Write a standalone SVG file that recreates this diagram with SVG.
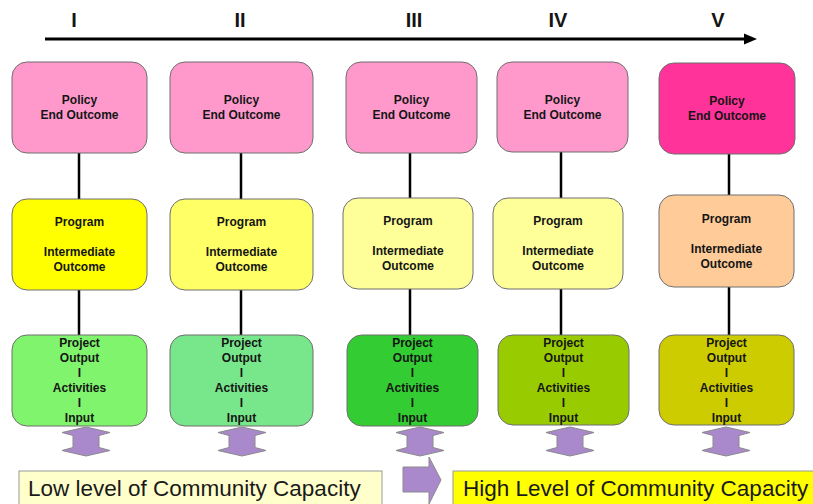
<svg xmlns="http://www.w3.org/2000/svg" width="813" height="504" viewBox="0 0 813 504">
  <style>
    .box { stroke: #6e6e6e; stroke-width: 1; }
    .lbl { font-family: "Liberation Sans", Arial, sans-serif; font-size: 12px; font-weight: bold; fill: #151515; text-anchor: middle; }
    .num { font-family: "Liberation Sans", Arial, sans-serif; font-size: 20px; font-weight: bold; fill: #151515; text-anchor: middle; }
    .cap { font-family: "Liberation Sans", Arial, sans-serif; font-size: 22.5px; fill: #1a1a1a; }
    .link { stroke: #000; stroke-width: 2.5; fill: none; }
    .ud { fill: #aa88cc; stroke: #8a8a8a; stroke-width: 1; }
  </style>
  <defs>
    <path id="updown" d="M0,-14.5 L24,-9 L13,-6 L13,6 L24,9 L0,14.5 L-24,9 L-13,6 L-13,-6 L-24,-9 Z"/>
  </defs>
  <rect width="813" height="504" fill="#ffffff"/>

  <!-- stage numbers and time axis -->
  <g id="axis">
    <text class="num" x="74" y="27">I</text>
    <text class="num" x="240" y="27">II</text>
    <text class="num" x="414" y="27">III</text>
    <text class="num" x="558" y="27">IV</text>
    <text class="num" x="718" y="27">V</text>
    <line x1="45" y1="39" x2="746" y2="39" stroke="#000" stroke-width="3"/>
    <polygon points="744,33.5 757,39 744,44.5" fill="#000"/>
  </g>

  <!-- connectors between levels -->
  <g id="connectors">
    <line class="link" x1="79" y1="153" x2="79" y2="199"/>
    <line class="link" x1="79" y1="290" x2="79" y2="335"/>
    <line class="link" x1="241" y1="153" x2="241" y2="199"/>
    <line class="link" x1="241" y1="290" x2="241" y2="335"/>
    <line class="link" x1="410" y1="153" x2="410" y2="198"/>
    <line class="link" x1="410" y1="289" x2="410" y2="335"/>
    <line class="link" x1="561" y1="152" x2="561" y2="198"/>
    <line class="link" x1="561" y1="289" x2="561" y2="335"/>
    <line class="link" x1="729" y1="154" x2="729" y2="195"/>
    <line class="link" x1="729" y1="287" x2="729" y2="335"/>
  </g>

  <!-- stage I -->
  <g id="policy-1">
    <rect class="box" x="12" y="62" width="135" height="91" rx="15" fill="#ff99cc"/>
    <text class="lbl" x="79.5" y="104">Policy</text>
    <text class="lbl" x="79.5" y="119">End Outcome</text>
  </g>
  <g id="program-1">
    <rect class="box" x="12" y="199" width="135" height="91" rx="15" fill="#ffff00"/>
    <text class="lbl" x="79.5" y="226">Program</text>
    <text class="lbl" x="79.5" y="256">Intermediate</text>
    <text class="lbl" x="79.5" y="271">Outcome</text>
  </g>
  <g id="project-1">
    <rect class="box" x="12" y="335" width="135" height="91" rx="15" fill="#7ff46c"/>
    <text class="lbl" x="79.5" y="347">Project</text>
    <text class="lbl" x="79.5" y="362">Output</text>
    <text class="lbl" x="79.5" y="377">I</text>
    <text class="lbl" x="79.5" y="392">Activities</text>
    <text class="lbl" x="79.5" y="407">I</text>
    <text class="lbl" x="79.5" y="422">Input</text>
  </g>

  <!-- stage II -->
  <g id="policy-2">
    <rect class="box" x="170" y="62" width="143" height="91" rx="15" fill="#ff99cc"/>
    <text class="lbl" x="241.5" y="104">Policy</text>
    <text class="lbl" x="241.5" y="119">End Outcome</text>
  </g>
  <g id="program-2">
    <rect class="box" x="170" y="199" width="143" height="91" rx="15" fill="#ffff66"/>
    <text class="lbl" x="241.5" y="226">Program</text>
    <text class="lbl" x="241.5" y="256">Intermediate</text>
    <text class="lbl" x="241.5" y="271">Outcome</text>
  </g>
  <g id="project-2">
    <rect class="box" x="170" y="335" width="143" height="91" rx="15" fill="#78e68a"/>
    <text class="lbl" x="241.5" y="347">Project</text>
    <text class="lbl" x="241.5" y="362">Output</text>
    <text class="lbl" x="241.5" y="377">I</text>
    <text class="lbl" x="241.5" y="392">Activities</text>
    <text class="lbl" x="241.5" y="407">I</text>
    <text class="lbl" x="241.5" y="422">Input</text>
  </g>

  <!-- stage III -->
  <g id="policy-3">
    <rect class="box" x="346" y="62" width="131" height="91" rx="15" fill="#ff99cc"/>
    <text class="lbl" x="411.5" y="104">Policy</text>
    <text class="lbl" x="411.5" y="119">End Outcome</text>
  </g>
  <g id="program-3">
    <rect class="box" x="343" y="198" width="130" height="91" rx="15" fill="#ffff99"/>
    <text class="lbl" x="408" y="225">Program</text>
    <text class="lbl" x="408" y="255">Intermediate</text>
    <text class="lbl" x="408" y="270">Outcome</text>
  </g>
  <g id="project-3">
    <rect class="box" x="347" y="335" width="131" height="91" rx="15" fill="#33cc33"/>
    <text class="lbl" x="412.5" y="347">Project</text>
    <text class="lbl" x="412.5" y="362">Output</text>
    <text class="lbl" x="412.5" y="377">I</text>
    <text class="lbl" x="412.5" y="392">Activities</text>
    <text class="lbl" x="412.5" y="407">I</text>
    <text class="lbl" x="412.5" y="422">Input</text>
  </g>

  <!-- stage IV -->
  <g id="policy-4">
    <rect class="box" x="497" y="62" width="131" height="90" rx="15" fill="#ff99cc"/>
    <text class="lbl" x="562.5" y="104">Policy</text>
    <text class="lbl" x="562.5" y="119">End Outcome</text>
  </g>
  <g id="program-4">
    <rect class="box" x="493" y="198" width="130" height="91" rx="15" fill="#ffff99"/>
    <text class="lbl" x="558" y="225">Program</text>
    <text class="lbl" x="558" y="255">Intermediate</text>
    <text class="lbl" x="558" y="270">Outcome</text>
  </g>
  <g id="project-4">
    <rect class="box" x="498" y="335" width="131" height="90" rx="15" fill="#99cc00"/>
    <text class="lbl" x="563.5" y="347">Project</text>
    <text class="lbl" x="563.5" y="362">Output</text>
    <text class="lbl" x="563.5" y="377">I</text>
    <text class="lbl" x="563.5" y="392">Activities</text>
    <text class="lbl" x="563.5" y="407">I</text>
    <text class="lbl" x="563.5" y="422">Input</text>
  </g>

  <!-- stage V -->
  <g id="policy-5">
    <rect class="box" x="659" y="63" width="136" height="91" rx="15" fill="#ff3399"/>
    <text class="lbl" x="727" y="105">Policy</text>
    <text class="lbl" x="727" y="120">End Outcome</text>
  </g>
  <g id="program-5">
    <rect class="box" x="659" y="195" width="135" height="92" rx="15" fill="#ffcc99"/>
    <text class="lbl" x="726.5" y="223">Program</text>
    <text class="lbl" x="726.5" y="253">Intermediate</text>
    <text class="lbl" x="726.5" y="268">Outcome</text>
  </g>
  <g id="project-5">
    <rect class="box" x="659" y="335" width="135" height="90" rx="15" fill="#cccc00"/>
    <text class="lbl" x="726.5" y="347">Project</text>
    <text class="lbl" x="726.5" y="362">Output</text>
    <text class="lbl" x="726.5" y="377">I</text>
    <text class="lbl" x="726.5" y="392">Activities</text>
    <text class="lbl" x="726.5" y="407">I</text>
    <text class="lbl" x="726.5" y="422">Input</text>
  </g>

  <!-- two-way exchange arrows under each stage -->
  <g id="exchange-arrows">
    <use href="#updown" class="ud" x="86" y="441.5"/>
    <use href="#updown" class="ud" x="242" y="441.5"/>
    <use href="#updown" class="ud" x="420" y="441.5"/>
    <use href="#updown" class="ud" x="570" y="441.5"/>
    <use href="#updown" class="ud" x="726" y="441.5"/>
  </g>

  <!-- capacity levels -->
  <g id="low-capacity">
    <rect x="19" y="471" width="363" height="45" fill="#ffffcc" stroke="#9a9a9a" stroke-width="1"/>
    <text class="cap" x="28" y="495.5">Low level of Community Capacity</text>
  </g>
  <g id="progress-arrow">
    <path d="M403,467 L429,467 L429,457 L441,480 L429,504 L429,492 L403,492 Z" fill="#aa88cc" stroke="#8a8a8a" stroke-width="1"/>
  </g>
  <g id="high-capacity">
    <rect x="453" y="471" width="370" height="45" fill="#ffff00" stroke="#9a9a9a" stroke-width="1"/>
    <text class="cap" x="463" y="495.5">High Level of Community Capacity</text>
  </g>
</svg>
